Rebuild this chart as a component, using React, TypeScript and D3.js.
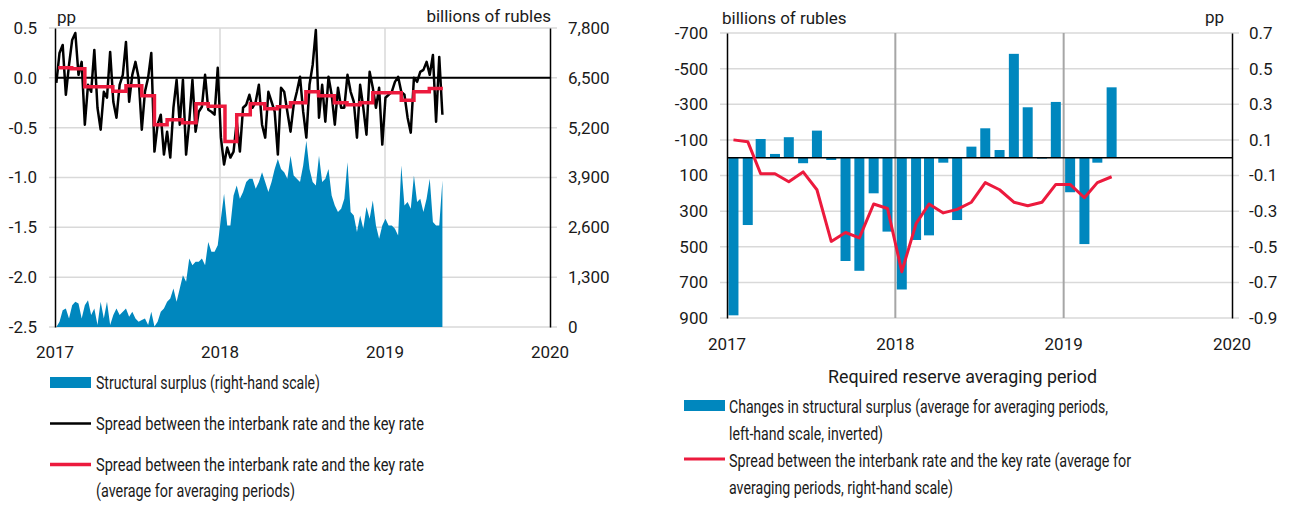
import { useEffect, useRef } from 'react';
import * as d3 from 'd3';

// Дневные ряды, снятые раз в неделю начиная с 4 января 2017
const weekStart = '2017-01-04';
// спред между ставкой МБК и ключевой ставкой, п.п.
const spreadDaily = [
  -0.05, 0.25, 0.33, -0.17, 0.13, 0.38, 0.45, 0.03, 0.16, -0.47, -0.07, -0.14, 0.28, -0.3, -0.52, -0.14,
  -0.2, 0.26, -0.24, -0.4, -0.07, 0.03, 0.36, -0.24, 0.03, 0.16, 0, -0.52, -0.14, 0, 0.25, -0.74,
  -0.47, -0.37, -0.77, -0.54, -0.8, -0.3, -0.02, -0.47, -0.02, -0.77, -0.44, -0.02, -0.54, -0.34, -0.29, 0.03,
  -0.32, -0.34, -0.37, 0.1, -0.6, -0.87, -0.7, -0.8, -0.74, -0.44, -0.74, -0.3, -0.27, -0.17,
  -0.3, -0.24, -0.07, -0.47, -0.6, -0.14, -0.24, -0.34, -0.77, -0.1, -0.14, -0.34, -0.54, -0.27, -0.14, 0.01,
  -0.34, -0.6, -0.07, 0.13, 0.48, -0.4, -0.07, -0.44, 0.01, -0.17, -0.47, -0.1, -0.3, -0.3, 0.03, -0.14,
  -0.24, -0.6, -0.07, -0.3, -0.57, 0.06, -0.1, -0.3, -0.1, -0.67, -0.2, -0.17, -0.14, -0.04, 0.01, -0.14,
  -0.17, -0.4, -0.55, 0, -0.04, 0.06, 0.08, 0.16, 0.03, 0.23, -0.44, 0.21, -0.37,
];
// структурный профицит, млрд руб.
const surplusDaily = [
  0, 140, 440, 485, 225, 570, 660, 615, 225, 570, 700, 310, 485, 50, 660, 225,
  660, 50, 310, 485, 310, 400, 485, 270, 400, 225, 140, 180, 225, 50, 400, 10,
  140, 400, 485, 660, 745, 1005, 660, 1005, 1350, 1180, 1785, 1610, 1700, 1700, 1785, 1610,
  2220, 1960, 1960, 2130, 2825, 3475, 2650, 2650, 3430, 3690, 3345, 3520, 3780, 3865,
  3865, 3605, 3780, 4040, 3780, 3520, 3780, 4125, 4385, 4125, 4040, 3865, 4470, 3950, 3865, 3780,
  4210, 4860, 4125, 3780, 3690, 4470, 3780, 3865, 4125, 3430, 3170, 3000, 3085, 3345, 4300, 3000,
  2910, 2480, 2910, 2565, 3130, 2825, 3300, 2650, 2305, 2650, 2825, 2650, 2650, 2565, 2390, 4210,
  3170, 3260, 3085, 3950, 3260, 3345, 3000, 3345, 3865, 2740, 2650, 2650, 3820,
];

// периоды усреднения обязательных резервов (начало каждого + конец последнего)
const periodStart = [
  '2017-01-08', '2017-02-07', '2017-03-08', '2017-04-07', '2017-05-09', '2017-06-07', '2017-07-12',
  '2017-08-09', '2017-09-06', '2017-10-10', '2017-11-09', '2017-12-06', '2018-01-12', '2018-02-07',
  '2018-03-09', '2018-04-10', '2018-05-08', '2018-06-06', '2018-07-10', '2018-08-07', '2018-09-11',
  '2018-10-09', '2018-11-07', '2018-12-05', '2019-01-15', '2019-02-06', '2019-03-06', '2019-04-09',
  '2019-05-09',
];
// средний спред за период, п.п.
const periodSpread = [
  0.1, 0.09, -0.09, -0.09, -0.135, -0.08, -0.18, -0.47, -0.42, -0.45, -0.26, -0.285, -0.64, -0.37,
  -0.26, -0.31, -0.29, -0.25, -0.14, -0.18, -0.25, -0.27, -0.25, -0.15, -0.15, -0.225, -0.14, -0.107,
];
// изменение структурного профицита за период, млрд руб.
const surplusChange = [
  885, 378, -105, -21, -115, 31, -152, 13, 580, 635, 200, 415, 740, 462,
  436, 28, 350, -62, -165, -43, -583, -283, 5, -313, 194, 485, 28, -395,
];

const years = [2017, 2018, 2019, 2020];
const leftTicksL = [0.5, 0, -0.5, -1, -1.5, -2, -2.5];
const leftTicksR = [7800, 6500, 5200, 3900, 2600, 1300, 0];
const rightTicksL = [-700, -500, -300, -100, 100, 300, 500, 700, 900];
const rightTicksR = [0.7, 0.5, 0.3, 0.1, -0.1, -0.3, -0.5, -0.7, -0.9];

const BLUE = '#0087be';
const RED = '#ec1a3d';
const GRID = '#d9d9d9';
const INK = '#1a1a1a';
const NUM_FONT = 'Roboto, "Noto Sans", sans-serif';
const TXT_FONT = 'Roboto, "Noto Sans", sans-serif';

const loc = d3.formatLocale({ decimal: '.', thousands: ',', grouping: [3], currency: ['', ''], minus: '-' });
const parse = d3.timeParse('%Y-%m-%d');

type Sel = d3.Selection<SVGGElement, unknown, null, undefined>;

// подпись; если задана ширина — текст ужимается под узкий шрифт оригинала
const label = (g: Sel, x: number, y: number, txt: string, anchor = 'start', font = TXT_FONT, size = 17, len = 0) => {
  const t = g.append('text').attr('x', x).attr('y', y).attr('dy', '0.35em')
    .attr('text-anchor', anchor).attr('font-family', font).attr('font-size', size)
    .attr('fill', INK).text(txt);
  if (len) t.attr('textLength', len).attr('lengthAdjust', 'spacingAndGlyphs');
  return t;
};

const styleAxis = (g: Sel) => {
  g.select('.domain').attr('stroke', '#000').attr('stroke-width', 1.5);
  g.selectAll('.tick line').remove();
  g.selectAll('.tick text').attr('font-family', NUM_FONT).attr('font-size', 17).attr('fill', INK);
  g.attr('font-family', null).attr('font-size', null);
};

function drawLeft(g: Sel) {
  const x = d3.scaleTime().domain([new Date(2017, 0, 1), new Date(2020, 0, 1)]).range([55, 550]);
  const yL = d3.scaleLinear().domain([-2.5, 0.5]).range([327, 28]);
  const yR = d3.scaleLinear().domain([0, 7800]).range([327, 28]);
  const t0 = parse(weekStart) as Date;
  const weeks = spreadDaily.map((_, i) => d3.timeDay.offset(t0, i * 7));

  g.selectAll('line.hgrid').data(leftTicksL).join('line').attr('class', 'hgrid')
    .attr('x1', 49).attr('x2', 557).attr('y1', d => yL(d)).attr('y2', d => yL(d))
    .attr('stroke', GRID).attr('stroke-width', 1.5);
  g.selectAll('line.vgrid').data(years.slice(1, 3)).join('line').attr('class', 'vgrid')
    .attr('x1', d => x(new Date(d, 0, 1))).attr('x2', d => x(new Date(d, 0, 1)))
    .attr('y1', 28).attr('y2', 327).attr('stroke', GRID).attr('stroke-width', 1.5);

  // структурный профицит — площадь по правой шкале
  const area = d3.area<number>().x((_, i) => x(weeks[i])).y0(yR(0)).y1(d => yR(d));
  g.append('path').datum(surplusDaily).attr('d', area).attr('fill', BLUE);

  g.append('line').attr('x1', 55).attr('x2', 550).attr('y1', yL(0)).attr('y2', yL(0))
    .attr('stroke', '#000').attr('stroke-width', 2);

  const line = d3.line<number>().x((_, i) => x(weeks[i])).y(d => yL(d));
  g.append('path').datum(spreadDaily).attr('d', line).attr('fill', 'none')
    .attr('stroke', '#000').attr('stroke-width', 2.5).attr('stroke-linejoin', 'round');

  // средний спред за период — ступеньки
  const steps = periodStart.map((s, i) => [parse(s) as Date, periodSpread[Math.min(i, periodSpread.length - 1)]] as [Date, number]);
  const stepLine = d3.line<[Date, number]>().x(d => x(d[0])).y(d => yL(d[1])).curve(d3.curveStepAfter);
  g.append('path').datum(steps).attr('d', stepLine).attr('fill', 'none')
    .attr('stroke', RED).attr('stroke-width', 3.5);

  g.append('g').attr('transform', 'translate(55,0)')
    .call(d3.axisLeft(yL).tickValues(leftTicksL).tickSize(0).tickPadding(18).tickFormat(loc.format('.1f')) as any)
    .call(styleAxis);
  g.append('g').attr('transform', 'translate(550,0)')
    .call(d3.axisRight(yR).tickValues(leftTicksR).tickSize(0).tickPadding(18).tickFormat(loc.format(',')) as any)
    .call(styleAxis);

  years.forEach(yr => label(g, x(new Date(yr, 0, 1)), 352, String(yr), 'middle', NUM_FONT));
  label(g, 57, 17, 'pp', 'start', NUM_FONT, 17);
  label(g, 551, 16, 'billions of rubles', 'end', NUM_FONT, 17);

  // легенда
  g.append('rect').attr('x', 50).attr('y', 377).attr('width', 41).attr('height', 11).attr('fill', BLUE);
  label(g, 96, 382, 'Structural surplus (right-hand scale)', 'start', TXT_FONT, 19, 224);
  g.append('line').attr('x1', 50).attr('x2', 91).attr('y1', 423.5).attr('y2', 423.5).attr('stroke', '#000').attr('stroke-width', 2.5);
  label(g, 96, 423, 'Spread between the interbank rate and the key rate', 'start', TXT_FONT, 19, 328);
  g.append('line').attr('x1', 50).attr('x2', 91).attr('y1', 464.5).attr('y2', 464.5).attr('stroke', RED).attr('stroke-width', 3.5);
  label(g, 96, 464, 'Spread between the interbank rate and the key rate', 'start', TXT_FONT, 19, 328);
  label(g, 96, 490, '(average for averaging periods)', 'start', TXT_FONT, 19, 199);
}

function drawRight(g: Sel) {
  const x = d3.scaleTime().domain([new Date(2017, 0, 1), new Date(2020, 0, 1)]).range([727, 1232]);
  const yL = d3.scaleLinear().domain([-700, 900]).range([33, 318]);
  const yR = d3.scaleLinear().domain([0.7, -0.9]).range([33, 318]);
  const mid = surplusChange.map((_, i) => d3.timeDay.offset(d3.timeMonth.offset(new Date(2017, 0, 1), i), 14));

  g.selectAll('line.hgrid').data(rightTicksL).join('line').attr('class', 'hgrid')
    .attr('x1', 720).attr('x2', 1239).attr('y1', d => yL(d)).attr('y2', d => yL(d))
    .attr('stroke', GRID).attr('stroke-width', 1.5);
  g.selectAll('line.vgrid').data(years.slice(1, 3)).join('line').attr('class', 'vgrid')
    .attr('x1', d => x(new Date(d, 0, 1))).attr('x2', d => x(new Date(d, 0, 1)))
    .attr('y1', 33).attr('y2', 318).attr('stroke', '#a6a6a6').attr('stroke-width', 2);

  g.selectAll('rect.bar').data(surplusChange).join('rect').attr('class', 'bar')
    .attr('x', (_, i) => x(mid[i]) - 5).attr('width', 10)
    .attr('y', d => Math.min(yL(0), yL(d))).attr('height', d => Math.abs(yL(d) - yL(0)))
    .attr('fill', BLUE);

  g.append('line').attr('x1', 727).attr('x2', 1232).attr('y1', yL(0)).attr('y2', yL(0))
    .attr('stroke', '#000').attr('stroke-width', 1.5);

  const line = d3.line<number>().x((_, i) => x(mid[i])).y(d => yR(d));
  g.append('path').datum(periodSpread).attr('d', line).attr('fill', 'none')
    .attr('stroke', RED).attr('stroke-width', 3).attr('stroke-linejoin', 'round');

  g.append('g').attr('transform', 'translate(727,0)')
    .call(d3.axisLeft(yL).tickValues(rightTicksL).tickSize(0).tickPadding(19).tickFormat(loc.format('d')) as any)
    .call(styleAxis);
  g.append('g').attr('transform', 'translate(1232,0)')
    .call(d3.axisRight(yR).tickValues(rightTicksR).tickSize(0).tickPadding(17).tickFormat(loc.format('.1f')) as any)
    .call(styleAxis);

  years.forEach(yr => label(g, x(new Date(yr, 0, 1)), 344, String(yr), 'middle', NUM_FONT));
  label(g, 828, 376, 'Required reserve averaging period', 'start', TXT_FONT, 19, 269);
  label(g, 722, 18, 'billions of rubles', 'start', NUM_FONT, 17);
  label(g, 1224, 17, 'pp', 'end', NUM_FONT, 17);

  // легенда
  g.append('rect').attr('x', 684).attr('y', 400).attr('width', 41).attr('height', 11).attr('fill', BLUE);
  label(g, 729, 406, 'Changes in structural surplus (average for averaging periods,', 'start', TXT_FONT, 19, 379);
  label(g, 729, 433, 'left-hand scale, inverted)', 'start', TXT_FONT, 19, 154);
  g.append('line').attr('x1', 684).attr('x2', 725).attr('y1', 459).attr('y2', 459).attr('stroke', RED).attr('stroke-width', 3);
  label(g, 729, 460, 'Spread between the interbank rate and the key rate (average for', 'start', TXT_FONT, 19, 402);
  label(g, 729, 487, 'averaging periods, right-hand scale)', 'start', TXT_FONT, 19, 224);
}

export default function App() {
  const svgRef = useRef<SVGSVGElement>(null);

  useEffect(() => {
    if (!svgRef.current) return;
    const svg = d3.select(svgRef.current);
    svg.selectAll('*').remove();
    drawLeft(svg.append('g') as unknown as Sel);
    drawRight(svg.append('g') as unknown as Sel);
  }, []);

  return (
    <svg ref={svgRef} width={1293} height={505}
      style={{ position: 'absolute', left: 0, top: 0, background: '#fff', display: 'block' }} />
  );
}
